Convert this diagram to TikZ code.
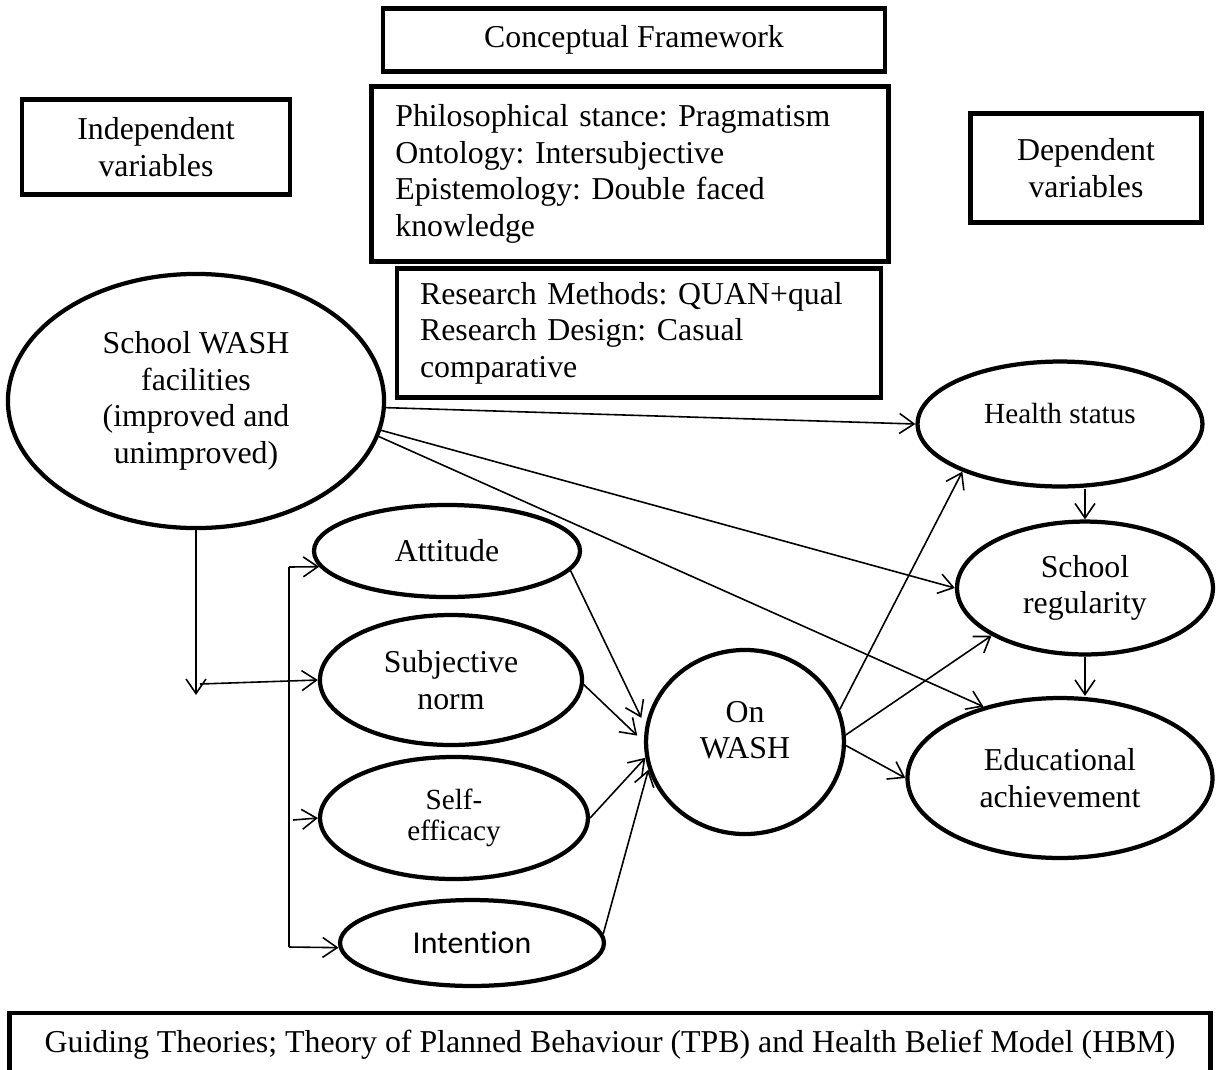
\documentclass[tikz,border=0pt]{standalone}
\usepackage{fontspec}
\setmainfont{Liberation Serif}
\newfontfamily\calibrifont[Ligatures=NoCommon]{Carlito}
\usepackage{tikz}
\usetikzlibrary{positioning,arrows.meta,shapes.geometric,calc}
\frenchspacing
\tikzset{
  panel/.style={draw=black, line width=1.7pt, inner sep=0pt, align=center, font=\fontsize{12}{13.8}\selectfont},
  var/.style={ellipse, draw=black, line width=1.6pt, inner sep=0pt, align=center, font=\fontsize{12}{13.8}\selectfont},
  arr/.style={-{Straight Barb[length=5.5pt,width=7.5pt]}, line width=0.6pt, draw=black},
  link/.style={line width=0.6pt, draw=black},
}

\begin{document}
\begin{tikzpicture}[x=0.377pt, y=-0.377pt]
  \useasboundingbox (0,0) rectangle (1221,1069);
  % framing boxes
  \node[panel, minimum width=189.3pt, minimum height=23.8pt] (cf) at (634,40) {Conceptual Framework};
  \node[panel, minimum width=101pt, minimum height=35.8pt] (indep) at (156,147) {Independent\\variables};
  \node[panel, minimum width=194.9pt, minimum height=66pt, inner xsep=9pt, text width=176.9pt, align=left] (phil) at (630,174)
    {Philosophical stance: Pragmatism\\Ontology: Intersubjective\\Epistemology: Double faced\\knowledge};
  \node[panel, minimum width=87.1pt, minimum height=41.1pt] (dep) at (1086,168) {Dependent\\variables};
  \node[panel, minimum width=182.5pt, minimum height=48.6pt, inner xsep=8.7pt, text width=165.1pt, align=left] (res) at (639,333)
    {Research Methods: QUAN+qual\\Research Design: Casual\\comparative};
  \node[panel, minimum width=452.8pt, minimum height=24.1pt] (guide) at (610,1045)
    {Guiding Theories; Theory of Planned Behaviour (TPB) and Health Belief Model (HBM)};

  % variables
  \node[var, minimum width=141.8pt, minimum height=95.8pt] (wash) at (196,401) {School WASH\\facilities\\(improved and\\unimproved)};
  \node[var, minimum width=100.3pt, minimum height=34.7pt] (att) at (447,551) {Attitude};
  \node[var, minimum width=98.8pt, minimum height=49pt] (subj) at (451,680) {Subjective\\norm};
  \node[var, minimum width=101pt, minimum height=46pt, font=\fontsize{11}{11.5}\selectfont] (self) at (454,818) {Self-\\efficacy};
  \node[var, minimum width=99.5pt, minimum height=32.4pt, font=\calibrifont\fontsize{12}{14.6}\selectfont] (intent) at (472,943) {Intention};
  \node[var, minimum width=74.6pt, minimum height=69.4pt,
    label={[align=center, yshift=4.5pt, font=\fontsize{12}{13.8}\selectfont]center:On\\WASH}] (onwash) at (745,742) {};
  \node[var, minimum width=107.4pt, minimum height=47.1pt, font=\fontsize{11}{12.6}\selectfont, text depth=8.3pt] (health) at (1060,424) {Health status};
  \node[var, minimum width=96.5pt, minimum height=50.1pt] (reg) at (1085,588) {School\\regularity};
  \node[var, minimum width=115pt, minimum height=60.3pt] (edu) at (1060,778) {Educational\\achievement};

  \coordinate (drop) at (196,695);
  \coordinate (fork) at (200,684);
  \coordinate (bustop) at (289,567);
  \coordinate (busbot) at (289,947);
  \coordinate (selftail) at (293,820);

  % feed into the TPB constructs
  \draw[arr] (wash.south) -- (drop);
  \draw[arr] (fork) -- (subj.west);
  \draw[link] (bustop) -- (busbot);
  \draw[arr] (bustop) -- (att.187);
  \draw[arr] (selftail) -- (self.west);
  \draw[arr] (busbot) -- (intent.182);
  \draw[arr, shorten >=3.5pt] (att.-9) -- (onwash.171);
  \draw[arr, shorten >=3.5pt] (subj.-2) -- (onwash.180);
  \draw[arr] (self.east) -- (onwash.189);
  \draw[arr] (intent.4) -- (onwash.196);

  % outcomes
  \draw[arr] (wash.-2) -- (health.west);
  \draw[arr] (wash.-9) -- (reg.west);
  \draw[arr] (wash.-11) -- (edu.137);
  \draw[arr] (onwash.19) -- (health.206);
  \draw[arr] (onwash.4) -- (reg.207);
  \draw[arr] (onwash.-2) -- (edu.west);
  \draw[arr] (reg.north |- health.south) -- (reg.north);
  \draw[arr] (reg.south) -- (reg.south |- edu.north);
\end{tikzpicture}
\end{document}
